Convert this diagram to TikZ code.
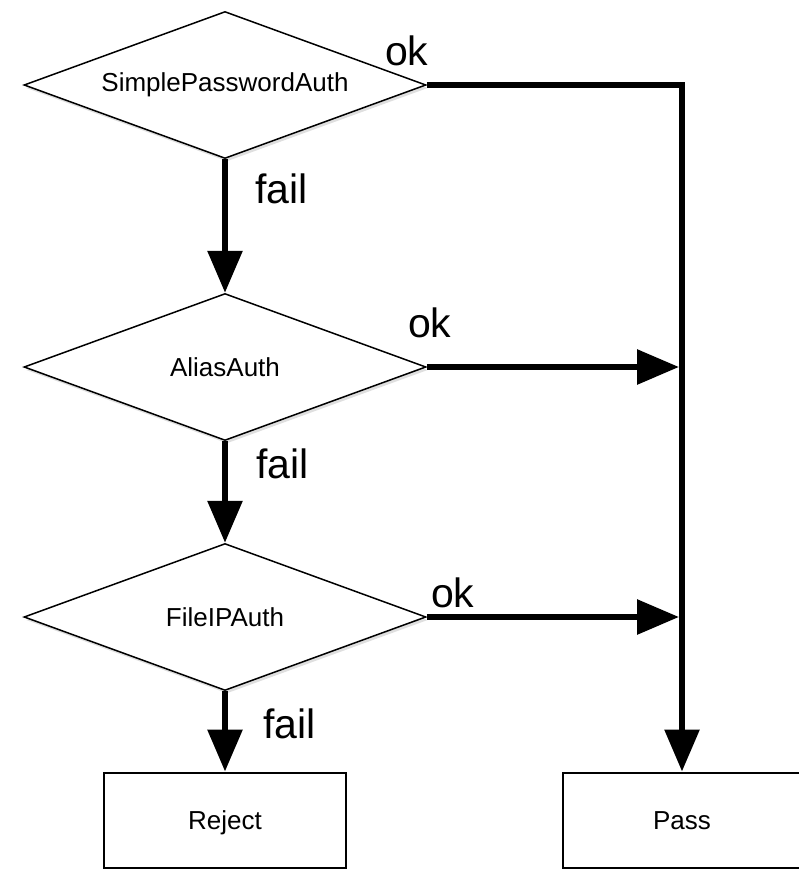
\documentclass[tikz,border=0pt]{standalone}
\usepackage{fontspec}
\setmainfont{Liberation Sans}
\usetikzlibrary{shapes.geometric,arrows.meta,shadows}

\begin{document}
\begin{tikzpicture}[x=1pt,y=-1pt,
  decision/.style={diamond,aspect=2.73,draw,line width=1.5pt,fill=white,
    minimum width=402pt,minimum height=147pt,inner sep=0pt,
    font=\fontsize{26}{30}\selectfont,
    drop shadow={shadow xshift=2pt,shadow yshift=-3pt,opacity=0.25}},
  end node/.style={rectangle,draw,line width=2pt,minimum width=242pt,
    minimum height=95pt,inner sep=0pt,text height=19pt,text depth=-6pt,
    font=\fontsize{26}{30}\selectfont},
  flow/.style={line width=6pt,-{Triangle[length=42pt,width=34pt]}},
  lbl/.style={font=\fontsize{41}{48}\selectfont,inner sep=0pt}]
  \useasboundingbox (0,0) rectangle (799,870);

  \node[decision] (simple) at (225,85) {SimplePasswordAuth};
  \node[decision] (alias) at (225,367) {AliasAuth};
  \node[decision] (fileip) at (225,617) {FileIPAuth};
  \node[end node] (reject) at (225,820) {Reject};
  \node[end node, minimum width=238pt] (pass) at (682,820) {Pass};
  \coordinate (corner) at (682,85);

  % ok branch to the right
  \draw[flow] (simple.east) node[lbl, anchor=base, xshift=-20pt, yshift=20pt] {ok}
    -- (corner) -- (pass.north);

  \path[flow,shorten >=3pt]
  (alias.east) edge node[lbl, pos=0, anchor=base, xshift=3pt, yshift=30pt] {ok} (alias.east -| corner)
  (fileip.east) edge node[lbl, pos=0, anchor=base, xshift=26pt, yshift=10pt] {ok} (fileip.east -| corner);

  % fail branch down
  \path[flow]
  (simple) edge node[lbl, pos=0.22, anchor=west, xshift=27pt] {fail} (alias)
  (alias) edge node[lbl, pos=0.22, anchor=west, xshift=28pt] {fail} (fileip)
  (fileip) edge node[lbl, pos=0.4, anchor=west, xshift=35pt] {fail} (reject);
\end{tikzpicture}
\end{document}
